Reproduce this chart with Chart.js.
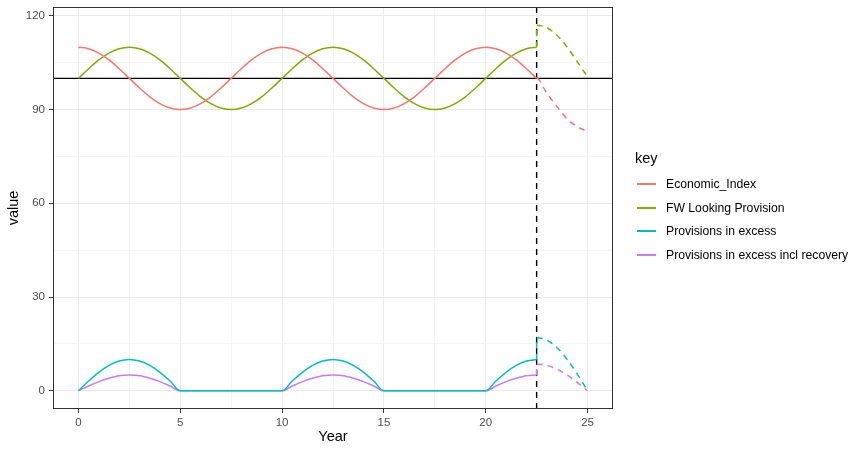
<!DOCTYPE html>
<html>
<head>
<meta charset="utf-8">
<script src="https://cdn.jsdelivr.net/npm/chart.js@4.4.1/dist/chart.umd.min.js"></script>
<style>
  body { margin: 0; background: #fff; font-family: "Liberation Sans", Arial, sans-serif; }
  #wrap { position: relative; width: 863px; height: 451px; }
  #legend { position: absolute; left: 635px; top: 0; width: 228px; height: 451px; }
  #legend .ttl { position: absolute; left: 0; top: 146px; font-size: 14.5px; color: #000; line-height: 24px; }
  #legend .key { position: absolute; left: 2px; width: 19px; height: 1.5px; }
  #legend .lbl { position: absolute; left: 31px; line-height: 16px; font-size: 12.2px; color: #000; white-space: nowrap; }
</style>
</head>
<body>
<div id="wrap">
  <canvas id="myChart" width="863" height="451"></canvas>
  <div id="legend"></div>
</div>
<script>
// data
const years = [0,0.5,1,1.5,2,2.5,3,3.5,4,4.5,5,5.5,6,6.5,7,7.5,8,8.5,9,9.5,
  10,10.5,11,11.5,12,12.5,13,13.5,14,14.5,15,15.5,16,16.5,17,17.5,18,18.5,19,19.5,
  20,20.5,21,21.5,22,22.5]
const economicIndex = [110,109.5,108.1,105.9,103.1,100,96.9,94.1,91.9,90.5,90,90.5,91.9,94.1,96.9,100,103.1,105.9,108.1,109.5,
  110,109.5,108.1,105.9,103.1,100,96.9,94.1,91.9,90.5,90,90.5,91.9,94.1,96.9,100,103.1,105.9,108.1,109.5,
  110,109.5,108.1,105.9,103.1,100]
const fwProvision = [100,103.1,105.9,108.1,109.5,110,109.5,108.1,105.9,103.1,100,96.9,94.1,91.9,90.5,90,90.5,91.9,94.1,96.9,
  100,103.1,105.9,108.1,109.5,110,109.5,108.1,105.9,103.1,100,96.9,94.1,91.9,90.5,90,90.5,91.9,94.1,96.9,
  100,103.1,105.9,108.1,109.5,110]
const provExcess = [0,3.1,5.9,8.1,9.5,10,9.5,8.1,5.9,3.1,0,0,0,0,0,0,0,0,0,0,
  0,3.1,5.9,8.1,9.5,10,9.5,8.1,5.9,3.1,0,0,0,0,0,0,0,0,0,0,
  0,3.1,5.9,8.1,9.5,10]
const provRecovery = [0,1.5,2.9,4,4.8,5,4.8,4,2.9,1.5,0,0,0,0,0,0,0,0,0,0,
  0,1.5,2.9,4,4.8,5,4.8,4,2.9,1.5,0,0,0,0,0,0,0,0,0,0,
  0,1.5,2.9,4,4.8,5]

// dashed projection after the cut-off
const projYears = [22.5,23,23.5,24,24.5,25]
const economicProj = [100,95.2,91,87,84.5,83]
const fwProj = [117,116.2,113.8,110,105.3,100.5]
const excessProj = [17,16.2,13.8,10,5.3,0]
const recoveryProj = [8.5,8.1,6.9,5,2.6,0]

const cutoffYear = 22.5
const baseline = 100

const seriesNames = ['Economic_Index', 'FW Looking Provision', 'Provisions in excess', 'Provisions in excess incl recovery']
const seriesColors = ['#F8766D', '#7CAE00', '#00BFC4', '#C77CFF']

const xMin = -1.25, xMax = 26.25
const yMin = -5.85, yMax = 122.85
const xGrid = [0,2.5,5,7.5,10,12.5,15,17.5,20,22.5,25]
const xTicks = [0,5,10,15,20,25]
const yGrid = [0,15,30,45,60,75,90,105,120]
const yTicks = [0,30,60,90,120]

const solid = [economicIndex, fwProvision, provExcess, provRecovery]
const proj = [economicProj, fwProj, excessProj, recoveryProj]

function pts(xs, ys) {
  return xs.map((x, i) => ({x: x, y: ys[i]}))
}

let datasets = []
solid.forEach((s, i) => {
  datasets.push({
    label: seriesNames[i],
    data: pts(years, s),
    borderColor: seriesColors[i],
    borderWidth: 1.5,
    pointRadius: 0,
    cubicInterpolationMode: 'monotone'
  })
})
proj.forEach((p, i) => {
  let last = solid[i][solid[i].length - 1]
  datasets.push({
    label: seriesNames[i] + ' (proj)',
    data: [{x: cutoffYear, y: last}].concat(pts(projYears, p)),
    borderColor: seriesColors[i],
    borderWidth: 1.5,
    borderDash: [6, 5],
    pointRadius: 0,
    cubicInterpolationMode: 'monotone'
  })
})
datasets.push({
  label: 'baseline',
  data: [{x: xMin, y: baseline}, {x: xMax, y: baseline}],
  borderColor: '#000',
  borderWidth: 1.4,
  pointRadius: 0
})
datasets.push({
  label: 'cutoff',
  data: [{x: cutoffYear, y: yMin}, {x: cutoffYear, y: yMax}],
  borderColor: '#000',
  borderWidth: 1.4,
  borderDash: [6, 5],
  pointRadius: 0
})

const panelBorder = {
  id: 'panelBorder',
  afterDraw(chart) {
    const a = chart.chartArea
    const c = chart.ctx
    c.save()
    c.strokeStyle = '#333333'
    c.lineWidth = 1
    c.strokeRect(Math.round(a.left) + 0.5, Math.round(a.top) + 0.5, Math.round(a.right - a.left) - 1, Math.round(a.bottom - a.top) - 1)
    c.restore()
  }
}

const tickFont = {family: '"Liberation Sans", Arial, sans-serif', size: 11.5}
const titleFont = {family: '"Liberation Sans", Arial, sans-serif', size: 14.5}

const ctx = document.getElementById('myChart')

new Chart(ctx, {
  type: 'line',
  data: { datasets: datasets },
  options: {
    responsive: false,
    animation: false,
    layout: { padding: { left: 0, top: 7, right: 250, bottom: 0 } },
    plugins: {
      legend: { display: false },
      tooltip: { enabled: false }
    },
    scales: {
      x: {
        type: 'linear',
        min: xMin,
        max: xMax,
        afterBuildTicks: (s) => { s.ticks = xGrid.map(v => ({value: v})) },
        afterFit: (s) => { s.height = 42; s.paddingLeft = 0; s.paddingRight = 0 },
        border: { display: false },
        grid: {
          color: (c) => xTicks.includes(c.tick.value) ? '#ebebeb' : '#f5f5f5',
          lineWidth: 1,
          tickColor: (c) => xTicks.includes(c.tick.value) ? '#333333' : 'rgba(0,0,0,0)',
          tickLength: 4
        },
        ticks: {
          autoSkip: false,
          maxRotation: 0,
          padding: 3,
          color: '#4d4d4d',
          font: tickFont,
          callback: (v) => xTicks.includes(v) ? String(v) : ''
        },
        title: {
          display: true,
          text: 'Year',
          color: '#000',
          font: titleFont,
          padding: { top: 0, bottom: 5.5 }
        }
      },
      y: {
        type: 'linear',
        min: yMin,
        max: yMax,
        afterBuildTicks: (s) => { s.ticks = yGrid.map(v => ({value: v})) },
        afterFit: (s) => { s.width = 53; s.paddingTop = 0; s.paddingBottom = 0 },
        border: { display: false },
        grid: {
          color: (c) => yTicks.includes(c.tick.value) ? '#ebebeb' : '#f5f5f5',
          lineWidth: 1,
          tickColor: (c) => yTicks.includes(c.tick.value) ? '#333333' : 'rgba(0,0,0,0)',
          tickLength: 4
        },
        ticks: {
          autoSkip: false,
          padding: 4,
          color: '#4d4d4d',
          font: tickFont,
          callback: (v) => yTicks.includes(v) ? String(v) : ''
        },
        title: {
          display: true,
          text: 'value',
          color: '#000',
          font: titleFont,
          padding: { top: 5.6, bottom: 0 }
        }
      }
    }
  },
  plugins: [panelBorder]
})

// legend like ggplot's, built from the series names
let legend = document.querySelector('#legend')
let rowCenters = [184, 208, 231, 255]
let html = '<div class="ttl">key</div>'
seriesNames.forEach((n, i) => {
  let c = rowCenters[i]
  html += '<div class="key" style="top:' + (c - 1) + 'px;background:' + seriesColors[i] + '"></div>'
  html += '<div class="lbl" style="top:' + (c - 8) + 'px">' + n + '</div>'
})
legend.innerHTML = html
</script>
</body>
</html>
